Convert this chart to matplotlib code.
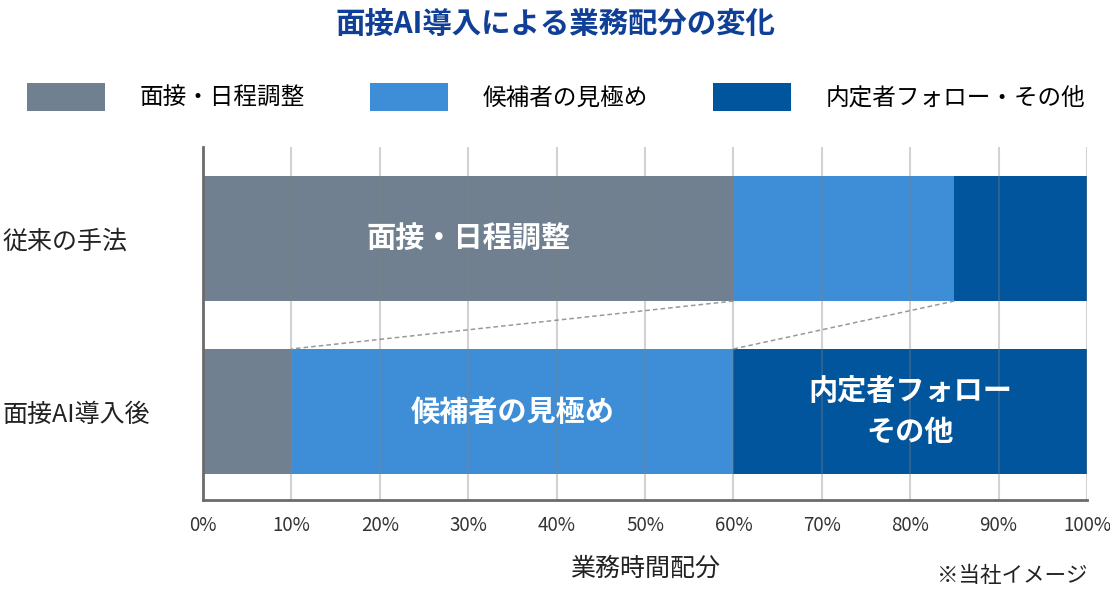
import numpy as np
import matplotlib
matplotlib.use("Agg")
from matplotlib import pyplot as plt

plt.rcParams['font.family'] = ['Noto Sans CJK JP', 'DejaVu Sans']

# data
categories = ['従来の手法', '面接AI導入後']
segments = ['面接・日程調整', '候補者の見極め', '内定者フォロー・その他']
before_values = [60, 25, 15]
after_values = [10, 50, 40]
tick_values = [0, 10, 20, 30, 40, 50, 60, 70, 80, 90, 100]
tick_labels = ['0%', '10%', '20%', '30%', '40%', '50%', '60%', '70%', '80%', '90%', '100%']
# bar text: (row, segment, text)
bar_texts = [(0, 0, '面接・日程調整'), (1, 1, '候補者の見極め'), (1, 2, '内定者フォロー\nその他')]

colors = ['#708090', '#3e8ed7', '#00559c']
bar_height = 0.723

fig = plt.figure(figsize=(11.1, 5.9), dpi=100)
ax = fig.add_axes([0.1829, 0.1525, 0.9793 - 0.1829, 0.7508 - 0.1525])

# top row at y=1, bottom row at y=0
y_pos = [1, 0]
values = np.array([before_values, after_values])
lefts = np.zeros(2)
for i, seg in enumerate(segments):
    ax.barh(y_pos, values[:, i], left=lefts, height=bar_height,
            color=colors[i], label=seg, zorder=1)
    lefts = lefts + values[:, i]

cums = np.cumsum(values, axis=1)
starts = cums - values

# labels inside bars
for row, seg, txt in bar_texts:
    cx = starts[row, seg] + values[row, seg] / 2
    ax.text(cx, y_pos[row], txt, ha='center', va='center', color='white',
            fontsize=21, fontweight='bold', linespacing=1.45, zorder=3)

# dashed connectors between segment boundaries
top_edge = y_pos[0] - bar_height / 2
bot_edge = y_pos[1] + bar_height / 2
for k in range(2):
    ax.plot([cums[0, k], cums[1, k]], [top_edge, bot_edge], linestyle=(0, (3, 2)),
            color='#999999', linewidth=1.1, zorder=2)

ax.set_xlim(0, 100)
ax.set_ylim(-0.512, 1.529)
ax.set_xticks(tick_values)
ax.set_xticklabels(tick_labels, fontsize=13.5, color='#333333')
ax.set_yticks(y_pos)
ax.set_yticklabels(categories, fontsize=18, color='#222222', ha='left')
ax.tick_params(axis='y', length=0, pad=144)
ax.tick_params(axis='x', length=0, pad=11)

ax.grid(axis='x', color='gray', alpha=0.35, linewidth=1.5, zorder=2)
ax.set_axisbelow(False)
for side in ['top', 'right']:
    ax.spines[side].set_visible(False)
for side in ['left', 'bottom']:
    ax.spines[side].set_color('#6b6b6b')
    ax.spines[side].set_linewidth(2)
    ax.spines[side].set_zorder(4)

ax.set_xlabel('業務時間配分', fontsize=18, color='#222222', labelpad=14)

fig.suptitle('面接AI導入による業務配分の変化', fontsize=21.2, fontweight='bold',
             color='#0f3f96', y=0.985)

fig.legend(loc='center left', bbox_to_anchor=(27 / 1110, 1 - 97 / 590), ncol=3,
           frameon=False, fontsize=17, handlelength=3.3, handleheight=1.4,
           handletextpad=1.48, columnspacing=2.75, borderpad=0, borderaxespad=0)

fig.text(1088 / 1110, 1 - 576 / 590, '※当社イメージ', ha='right', va='center',
         fontsize=15.5, color='#222222')

fig.savefig('out.png', dpi=100)
